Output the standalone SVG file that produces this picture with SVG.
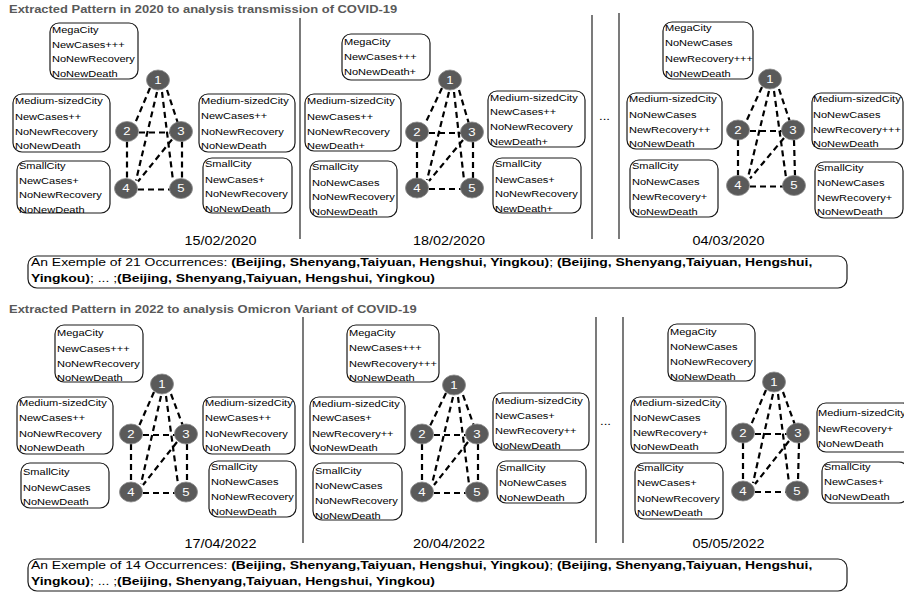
<svg xmlns="http://www.w3.org/2000/svg" width="904" height="593" viewBox="0 0 904 593">
<style>
text{font-family:"Liberation Sans",Arial,sans-serif;fill:#000}
.box{fill:#fff;stroke:#1a1a1a;stroke-width:1.2}
.t{font-size:9.2px}
.edge{stroke:#000;stroke-width:2.2;stroke-dasharray:6 4;fill:none}
.nd{fill:#5a5a5a;stroke:#8a8a8a;stroke-width:0.8}
.num{font-size:11px;fill:#fff;text-anchor:middle}
.sep{stroke:#333;stroke-width:1.3}
.title{font-weight:bold;font-size:10.8px;fill:#595959}
.date{font-size:12px;text-anchor:middle}
.ex{font-size:11.6px}
.b{font-weight:bold}
.dots{font-size:11px}
</style>
<rect width="904" height="593" fill="#fff"/>

<text class="title" transform="matrix(1.2 0 0 1 9 0)" x="0" y="13.5">Extracted Pattern in 2020 to analysis transmission of COVID-19</text>
<text class="title" transform="matrix(1.2 0 0 1 9 0)" x="0" y="313.5">Extracted Pattern in 2022 to analysis Omicron Variant of COVID-19</text>

<g id="separators">
<line class="sep" x1="300" y1="18" x2="300" y2="239"/>
<line class="sep" x1="592" y1="15" x2="592" y2="239"/>
<line class="sep" x1="619" y1="13" x2="619" y2="239"/>
<line class="sep" x1="303" y1="317" x2="303" y2="543"/>
<line class="sep" x1="596" y1="317" x2="596" y2="543"/>
<line class="sep" x1="623" y1="317" x2="623" y2="543"/>
<text class="dots" transform="matrix(1.2 0 0 1 599 0)" x="0" y="120">...</text>
<text class="dots" transform="matrix(1.2 0 0 1 600 0)" x="0" y="425">...</text>
</g>

<g id="connectors">
<!-- T1 -->
<line class="edge" x1="150" y1="88" x2="135" y2="123.5"/>
<line class="edge" x1="167" y1="90" x2="178" y2="123.5"/>
<line class="edge" x1="157" y1="92" x2="136" y2="180.5"/>
<line class="edge" x1="162" y1="92" x2="173" y2="180.5"/>
<line class="edge" x1="139" y1="132.5" x2="170" y2="132.5"/>
<line class="edge" x1="127" y1="141.5" x2="127" y2="178.5"/>
<line class="edge" x1="182" y1="141.5" x2="182" y2="178.5"/>
<line class="edge" x1="172" y1="139.5" x2="138" y2="181.5"/>
<line class="edge" x1="138" y1="189.5" x2="170" y2="189.5"/>
<!-- T2 -->
<line class="edge" x1="442" y1="88" x2="425" y2="124"/>
<line class="edge" x1="459" y1="90" x2="469" y2="124"/>
<line class="edge" x1="449" y1="92" x2="427" y2="180"/>
<line class="edge" x1="454" y1="92" x2="464" y2="180"/>
<line class="edge" x1="429" y1="133" x2="461" y2="133"/>
<line class="edge" x1="417" y1="142" x2="417" y2="178"/>
<line class="edge" x1="473" y1="142" x2="473" y2="178"/>
<line class="edge" x1="463" y1="140" x2="429" y2="181"/>
<line class="edge" x1="429" y1="189" x2="461" y2="189"/>
<!-- T3 -->
<line class="edge" x1="762" y1="87" x2="746" y2="122"/>
<line class="edge" x1="779" y1="89" x2="790" y2="122"/>
<line class="edge" x1="769" y1="91" x2="748" y2="177.5"/>
<line class="edge" x1="774" y1="91" x2="786" y2="177.5"/>
<line class="edge" x1="750" y1="131" x2="782" y2="131"/>
<line class="edge" x1="738" y1="140" x2="738" y2="175.5"/>
<line class="edge" x1="794" y1="140" x2="795" y2="175.5"/>
<line class="edge" x1="784" y1="138" x2="750" y2="178.5"/>
<line class="edge" x1="750" y1="186.5" x2="783" y2="186.5"/>
<!-- B1 -->
<line class="edge" x1="154" y1="392" x2="139" y2="426"/>
<line class="edge" x1="171" y1="394" x2="183" y2="426"/>
<line class="edge" x1="161" y1="396" x2="141" y2="484"/>
<line class="edge" x1="166" y1="396" x2="178" y2="484"/>
<line class="edge" x1="143" y1="435" x2="175" y2="435"/>
<line class="edge" x1="131" y1="444" x2="131" y2="482"/>
<line class="edge" x1="187" y1="444" x2="187" y2="482"/>
<line class="edge" x1="177" y1="442" x2="143" y2="485"/>
<line class="edge" x1="143" y1="493" x2="175" y2="493"/>
<!-- B2 -->
<line class="edge" x1="446" y1="393" x2="430" y2="426"/>
<line class="edge" x1="463" y1="395" x2="474" y2="426"/>
<line class="edge" x1="453" y1="397" x2="432" y2="484"/>
<line class="edge" x1="458" y1="397" x2="469" y2="484"/>
<line class="edge" x1="434" y1="435" x2="466" y2="435"/>
<line class="edge" x1="422" y1="444" x2="422" y2="482"/>
<line class="edge" x1="478" y1="444" x2="478" y2="482"/>
<line class="edge" x1="468" y1="442" x2="434" y2="485"/>
<line class="edge" x1="434" y1="493" x2="466" y2="493"/>
<!-- B3 -->
<line class="edge" x1="766" y1="390" x2="751" y2="425"/>
<line class="edge" x1="783" y1="392" x2="795" y2="425"/>
<line class="edge" x1="773" y1="394" x2="753" y2="483"/>
<line class="edge" x1="778" y1="394" x2="789" y2="483"/>
<line class="edge" x1="755" y1="434" x2="787" y2="434"/>
<line class="edge" x1="743" y1="443" x2="743" y2="481"/>
<line class="edge" x1="799" y1="443" x2="798" y2="481"/>
<line class="edge" x1="789" y1="441" x2="755" y2="484"/>
<line class="edge" x1="755" y1="492" x2="786" y2="492"/>
</g>

<!-- ===== TOP ROW NODES ===== -->
<g id="t1-n1"><ellipse class="nd" cx="158" cy="80" rx="11.5" ry="10"/><text class="num" transform="matrix(1.2 0 0 1 158 0)" x="0" y="84">1</text></g>
<g id="t1-n2"><ellipse class="nd" cx="127" cy="131.5" rx="11.5" ry="10"/><text class="num" transform="matrix(1.2 0 0 1 127 0)" x="0" y="135.5">2</text></g>
<g id="t1-n3"><ellipse class="nd" cx="181" cy="131.5" rx="11.5" ry="10"/><text class="num" transform="matrix(1.2 0 0 1 181 0)" x="0" y="135.5">3</text></g>
<g id="t1-n4"><ellipse class="nd" cx="126" cy="188.5" rx="11.5" ry="10"/><text class="num" transform="matrix(1.2 0 0 1 126 0)" x="0" y="192.5">4</text></g>
<g id="t1-n5"><ellipse class="nd" cx="181" cy="188.5" rx="11.5" ry="10"/><text class="num" transform="matrix(1.2 0 0 1 181 0)" x="0" y="192.5">5</text></g>

<g id="t2-n1"><ellipse class="nd" cx="450" cy="80" rx="11.5" ry="10"/><text class="num" transform="matrix(1.2 0 0 1 450 0)" x="0" y="84">1</text></g>
<g id="t2-n2"><ellipse class="nd" cx="417" cy="132" rx="11.5" ry="10"/><text class="num" transform="matrix(1.2 0 0 1 417 0)" x="0" y="136">2</text></g>
<g id="t2-n3"><ellipse class="nd" cx="472" cy="132" rx="11.5" ry="10"/><text class="num" transform="matrix(1.2 0 0 1 472 0)" x="0" y="136">3</text></g>
<g id="t2-n4"><ellipse class="nd" cx="417" cy="188" rx="11.5" ry="10"/><text class="num" transform="matrix(1.2 0 0 1 417 0)" x="0" y="192">4</text></g>
<g id="t2-n5"><ellipse class="nd" cx="472" cy="188" rx="11.5" ry="10"/><text class="num" transform="matrix(1.2 0 0 1 472 0)" x="0" y="192">5</text></g>

<g id="t3-n1"><ellipse class="nd" cx="770" cy="79" rx="11.5" ry="10"/><text class="num" transform="matrix(1.2 0 0 1 770 0)" x="0" y="83">1</text></g>
<g id="t3-n2"><ellipse class="nd" cx="738" cy="130" rx="11.5" ry="10"/><text class="num" transform="matrix(1.2 0 0 1 738 0)" x="0" y="134">2</text></g>
<g id="t3-n3"><ellipse class="nd" cx="793" cy="130" rx="11.5" ry="10"/><text class="num" transform="matrix(1.2 0 0 1 793 0)" x="0" y="134">3</text></g>
<g id="t3-n4"><ellipse class="nd" cx="738" cy="185.5" rx="11.5" ry="10"/><text class="num" transform="matrix(1.2 0 0 1 738 0)" x="0" y="189.5">4</text></g>
<g id="t3-n5"><ellipse class="nd" cx="794" cy="185.5" rx="11.5" ry="10"/><text class="num" transform="matrix(1.2 0 0 1 794 0)" x="0" y="189.5">5</text></g>

<!-- ===== BOTTOM ROW NODES ===== -->
<g id="b1-n1"><ellipse class="nd" cx="162" cy="384" rx="11.5" ry="10"/><text class="num" transform="matrix(1.2 0 0 1 162 0)" x="0" y="388">1</text></g>
<g id="b1-n2"><ellipse class="nd" cx="131" cy="434" rx="11.5" ry="10"/><text class="num" transform="matrix(1.2 0 0 1 131 0)" x="0" y="438">2</text></g>
<g id="b1-n3"><ellipse class="nd" cx="186" cy="434" rx="11.5" ry="10"/><text class="num" transform="matrix(1.2 0 0 1 186 0)" x="0" y="438">3</text></g>
<g id="b1-n4"><ellipse class="nd" cx="131" cy="492" rx="11.5" ry="10"/><text class="num" transform="matrix(1.2 0 0 1 131 0)" x="0" y="496">4</text></g>
<g id="b1-n5"><ellipse class="nd" cx="186" cy="492" rx="11.5" ry="10"/><text class="num" transform="matrix(1.2 0 0 1 186 0)" x="0" y="496">5</text></g>

<g id="b2-n1"><ellipse class="nd" cx="454" cy="385" rx="11.5" ry="10"/><text class="num" transform="matrix(1.2 0 0 1 454 0)" x="0" y="389">1</text></g>
<g id="b2-n2"><ellipse class="nd" cx="422" cy="434" rx="11.5" ry="10"/><text class="num" transform="matrix(1.2 0 0 1 422 0)" x="0" y="438">2</text></g>
<g id="b2-n3"><ellipse class="nd" cx="477" cy="434" rx="11.5" ry="10"/><text class="num" transform="matrix(1.2 0 0 1 477 0)" x="0" y="438">3</text></g>
<g id="b2-n4"><ellipse class="nd" cx="422" cy="492" rx="11.5" ry="10"/><text class="num" transform="matrix(1.2 0 0 1 422 0)" x="0" y="496">4</text></g>
<g id="b2-n5"><ellipse class="nd" cx="477" cy="492" rx="11.5" ry="10"/><text class="num" transform="matrix(1.2 0 0 1 477 0)" x="0" y="496">5</text></g>

<g id="b3-n1"><ellipse class="nd" cx="774" cy="382" rx="11.5" ry="10"/><text class="num" transform="matrix(1.2 0 0 1 774 0)" x="0" y="386">1</text></g>
<g id="b3-n2"><ellipse class="nd" cx="743" cy="433" rx="11.5" ry="10"/><text class="num" transform="matrix(1.2 0 0 1 743 0)" x="0" y="437">2</text></g>
<g id="b3-n3"><ellipse class="nd" cx="798" cy="433" rx="11.5" ry="10"/><text class="num" transform="matrix(1.2 0 0 1 798 0)" x="0" y="437">3</text></g>
<g id="b3-n4"><ellipse class="nd" cx="743" cy="491" rx="11.5" ry="10"/><text class="num" transform="matrix(1.2 0 0 1 743 0)" x="0" y="495">4</text></g>
<g id="b3-n5"><ellipse class="nd" cx="797" cy="491" rx="11.5" ry="10"/><text class="num" transform="matrix(1.2 0 0 1 797 0)" x="0" y="495">5</text></g>

<!-- ===== TOP ROW LABEL BOXES ===== -->
<g id="t1-mega"><rect class="box" x="50" y="23" width="88" height="56" rx="9"/><text class="t" transform="matrix(1.2 0 0 1 52 0)"><tspan x="0" y="33.5">MegaCity</tspan><tspan x="0" y="48">NewCases+++</tspan><tspan x="0" y="62.5">NoNewRecovery</tspan><tspan x="0" y="77">NoNewDeath</tspan></text></g>
<g id="t1-medl"><rect class="box" x="13" y="94" width="97" height="58" rx="9"/><text class="t" transform="matrix(1.2 0 0 1 15 0)"><tspan x="0" y="104">Medium-sizedCity</tspan><tspan x="0" y="120">NewCases++</tspan><tspan x="0" y="135">NoNewRecovery</tspan><tspan x="0" y="149">NoNewDeath</tspan></text></g>
<g id="t1-medr"><rect class="box" x="199" y="94" width="96" height="58" rx="9"/><text class="t" transform="matrix(1.2 0 0 1 201 0)"><tspan x="0" y="104">Medium-sizedCity</tspan><tspan x="0" y="119.5">NewCases++</tspan><tspan x="0" y="135">NoNewRecovery</tspan><tspan x="0" y="149">NoNewDeath</tspan></text></g>
<g id="t1-smalll"><rect class="box" x="17" y="161" width="93" height="52" rx="9"/><text class="t" transform="matrix(1.2 0 0 1 19 0)"><tspan x="0" y="169">SmallCity</tspan><tspan x="0" y="184.5">NewCases+</tspan><tspan x="0" y="198.5">NoNewRecovery</tspan><tspan x="0" y="213">NoNewDeath</tspan></text></g>
<g id="t1-smallr"><rect class="box" x="203" y="158" width="89" height="55" rx="9"/><text class="t" transform="matrix(1.2 0 0 1 205 0)"><tspan x="0" y="167.5">SmallCity</tspan><tspan x="0" y="183">NewCases+</tspan><tspan x="0" y="197.5">NoNewRecovery</tspan><tspan x="0" y="212.5">NoNewDeath</tspan></text></g>

<g id="t2-mega"><rect class="box" x="342" y="34" width="88" height="46" rx="9"/><text class="t" transform="matrix(1.2 0 0 1 344 0)"><tspan x="0" y="45">MegaCity</tspan><tspan x="0" y="60">NewCases+++</tspan><tspan x="0" y="75">NoNewDeath+</tspan></text></g>
<g id="t2-medl"><rect class="box" x="305" y="94" width="96" height="57" rx="9"/><text class="t" transform="matrix(1.2 0 0 1 307 0)"><tspan x="0" y="104">Medium-sizedCity</tspan><tspan x="0" y="120">NewCases++</tspan><tspan x="0" y="135">NoNewRecovery</tspan><tspan x="0" y="149">NewDeath+</tspan></text></g>
<g id="t2-medr"><rect class="box" x="488" y="91" width="97" height="56" rx="9"/><text class="t" transform="matrix(1.2 0 0 1 490 0)"><tspan x="0" y="101">Medium-sizedCity</tspan><tspan x="0" y="115.5">NewCases++</tspan><tspan x="0" y="130.5">NoNewRecovery</tspan><tspan x="0" y="145.5">NewDeath+</tspan></text></g>
<g id="t2-smalll"><rect class="box" x="310" y="161" width="87" height="56" rx="9"/><text class="t" transform="matrix(1.2 0 0 1 312 0)"><tspan x="0" y="170">SmallCity</tspan><tspan x="0" y="186">NoNewCases</tspan><tspan x="0" y="200.5">NoNewRecovery</tspan><tspan x="0" y="215.5">NoNewDeath</tspan></text></g>
<g id="t2-smallr"><rect class="box" x="493" y="158" width="88" height="55" rx="9"/><text class="t" transform="matrix(1.2 0 0 1 495 0)"><tspan x="0" y="167.5">SmallCity</tspan><tspan x="0" y="183">NewCases+</tspan><tspan x="0" y="197.5">NoNewRecovery</tspan><tspan x="0" y="212.5">NewDeath+</tspan></text></g>

<g id="t3-mega"><rect class="box" x="663" y="22" width="90" height="57" rx="9"/><text class="t" transform="matrix(1.2 0 0 1 665 0)"><tspan x="0" y="31.5">MegaCity</tspan><tspan x="0" y="46.5">NoNewCases</tspan><tspan x="0" y="62">NewRecovery+++</tspan><tspan x="0" y="77.5">NoNewDeath</tspan></text></g>
<g id="t3-medl"><rect class="box" x="627" y="93" width="95" height="56" rx="9"/><text class="t" transform="matrix(1.2 0 0 1 629 0)"><tspan x="0" y="102.5">Medium-sizedCity</tspan><tspan x="0" y="118.5">NoNewCases</tspan><tspan x="0" y="133.5">NewRecovery++</tspan><tspan x="0" y="147.5">NoNewDeath</tspan></text></g>
<g id="t3-medr"><rect class="box" x="812" y="93" width="91" height="56" rx="9"/><text class="t" transform="matrix(1.2 0 0 1 813 0)"><tspan x="0" y="102.5">Medium-sizedCity</tspan><tspan x="0" y="118.5">NoNewCases</tspan><tspan x="0" y="133.5">NewRecovery+++</tspan><tspan x="0" y="147.5">NoNewDeath</tspan></text></g>
<g id="t3-smalll"><rect class="box" x="630" y="160" width="88" height="57" rx="9"/><text class="t" transform="matrix(1.2 0 0 1 632 0)"><tspan x="0" y="169">SmallCity</tspan><tspan x="0" y="185">NoNewCases</tspan><tspan x="0" y="200">NewRecovery+</tspan><tspan x="0" y="215">NoNewDeath</tspan></text></g>
<g id="t3-smallr"><rect class="box" x="815" y="162" width="88" height="56" rx="9"/><text class="t" transform="matrix(1.2 0 0 1 817 0)"><tspan x="0" y="171">SmallCity</tspan><tspan x="0" y="186.5">NoNewCases</tspan><tspan x="0" y="201">NewRecovery+</tspan><tspan x="0" y="215.5">NoNewDeath</tspan></text></g>

<!-- ===== BOTTOM ROW LABEL BOXES ===== -->
<g id="b1-mega"><rect class="box" x="55" y="325" width="88" height="57" rx="9"/><text class="t" transform="matrix(1.2 0 0 1 57 0)"><tspan x="0" y="336.5">MegaCity</tspan><tspan x="0" y="352">NewCases+++</tspan><tspan x="0" y="367.5">NoNewRecovery</tspan><tspan x="0" y="381.5">NoNewDeath</tspan></text></g>
<g id="b1-medl"><rect class="box" x="17" y="397" width="96" height="57" rx="9"/><text class="t" transform="matrix(1.2 0 0 1 19 0)"><tspan x="0" y="406.5">Medium-sizedCity</tspan><tspan x="0" y="421.5">NewCases++</tspan><tspan x="0" y="437.5">NoNewRecovery</tspan><tspan x="0" y="451.5">NoNewDeath</tspan></text></g>
<g id="b1-medr"><rect class="box" x="203" y="397" width="92" height="57" rx="9"/><text class="t" transform="matrix(1.2 0 0 1 205 0)"><tspan x="0" y="406.5">Medium-sizedCity</tspan><tspan x="0" y="421.5">NewCases++</tspan><tspan x="0" y="437.5">NoNewRecovery</tspan><tspan x="0" y="451.5">NoNewDeath</tspan></text></g>
<g id="b1-smalll"><rect class="box" x="21" y="463" width="88" height="45" rx="9"/><text class="t" transform="matrix(1.2 0 0 1 23 0)"><tspan x="0" y="475">SmallCity</tspan><tspan x="0" y="491">NoNewCases</tspan><tspan x="0" y="505.5">NoNewDeath</tspan></text></g>
<g id="b1-smallr"><rect class="box" x="209" y="461" width="87" height="56" rx="9"/><text class="t" transform="matrix(1.2 0 0 1 211 0)"><tspan x="0" y="470">SmallCity</tspan><tspan x="0" y="485">NoNewCases</tspan><tspan x="0" y="500.5">NoNewRecovery</tspan><tspan x="0" y="515">NoNewDeath</tspan></text></g>

<g id="b2-mega"><rect class="box" x="347" y="325" width="92" height="57" rx="9"/><text class="t" transform="matrix(1.2 0 0 1 349 0)"><tspan x="0" y="336.5">MegaCity</tspan><tspan x="0" y="351.5">NewCases+++</tspan><tspan x="0" y="366.5">NewRecovery+++</tspan><tspan x="0" y="381">NoNewDeath</tspan></text></g>
<g id="b2-medl"><rect class="box" x="310" y="397" width="95" height="57" rx="9"/><text class="t" transform="matrix(1.2 0 0 1 312 0)"><tspan x="0" y="407">Medium-sizedCity</tspan><tspan x="0" y="421.5">NewCases+</tspan><tspan x="0" y="437">NewRecovery++</tspan><tspan x="0" y="451.5">NoNewDeath</tspan></text></g>
<g id="b2-medr"><rect class="box" x="493" y="393" width="96" height="57" rx="9"/><text class="t" transform="matrix(1.2 0 0 1 495 0)"><tspan x="0" y="404">Medium-sizedCity</tspan><tspan x="0" y="419">NewCases+</tspan><tspan x="0" y="434">NewRecovery++</tspan><tspan x="0" y="449">NoNewDeath</tspan></text></g>
<g id="b2-smalll"><rect class="box" x="313" y="463" width="89" height="57" rx="9"/><text class="t" transform="matrix(1.2 0 0 1 315 0)"><tspan x="0" y="474">SmallCity</tspan><tspan x="0" y="489">NoNewCases</tspan><tspan x="0" y="504">NoNewRecovery</tspan><tspan x="0" y="519">NoNewDeath</tspan></text></g>
<g id="b2-smallr"><rect class="box" x="497" y="461" width="89" height="42" rx="9"/><text class="t" transform="matrix(1.2 0 0 1 499 0)"><tspan x="0" y="471">SmallCity</tspan><tspan x="0" y="486">NoNewCases</tspan><tspan x="0" y="501">NoNewDeath</tspan></text></g>

<g id="b3-mega"><rect class="box" x="668" y="324" width="87" height="57" rx="9"/><text class="t" transform="matrix(1.2 0 0 1 670 0)"><tspan x="0" y="335">MegaCity</tspan><tspan x="0" y="350">NoNewCases</tspan><tspan x="0" y="365.5">NoNewRecovery</tspan><tspan x="0" y="380">NoNewDeath</tspan></text></g>
<g id="b3-medl"><rect class="box" x="631" y="397" width="95" height="56" rx="9"/><text class="t" transform="matrix(1.2 0 0 1 633 0)"><tspan x="0" y="406.5">Medium-sizedCity</tspan><tspan x="0" y="421.5">NoNewCases</tspan><tspan x="0" y="436">NewRecovery+</tspan><tspan x="0" y="450.5">NoNewDeath</tspan></text></g>
<g id="b3-medr"><rect class="box" x="817" y="403" width="95" height="49" rx="9"/><text class="t" transform="matrix(1.2 0 0 1 818 0)"><tspan x="0" y="416.5">Medium-sizedCity</tspan><tspan x="0" y="432">NewRecovery+</tspan><tspan x="0" y="447">NoNewDeath</tspan></text></g>
<g id="b3-smalll"><rect class="box" x="635" y="463" width="88" height="56" rx="9"/><text class="t" transform="matrix(1.2 0 0 1 637 0)"><tspan x="0" y="471.5">SmallCity</tspan><tspan x="0" y="486.5">NewCases+</tspan><tspan x="0" y="502.5">NoNewRecovery</tspan><tspan x="0" y="516.5">NoNewDeath</tspan></text></g>
<g id="b3-smallr"><rect class="box" x="822" y="462" width="86" height="41" rx="9"/><text class="t" transform="matrix(1.2 0 0 1 824 0)"><tspan x="0" y="470">SmallCity</tspan><tspan x="0" y="485.5">NewCases+</tspan><tspan x="0" y="500">NoNewDeath</tspan></text></g>

<!-- ===== DATES ===== -->
<g id="dates">
<text class="date" transform="matrix(1.2 0 0 1 220.5 0)" x="0" y="245">15/02/2020</text>
<text class="date" transform="matrix(1.2 0 0 1 449 0)" x="0" y="245">18/02/2020</text>
<text class="date" transform="matrix(1.2 0 0 1 728.5 0)" x="0" y="245">04/03/2020</text>
<text class="date" transform="matrix(1.2 0 0 1 220.5 0)" x="0" y="548">17/04/2022</text>
<text class="date" transform="matrix(1.2 0 0 1 449 0)" x="0" y="548">20/04/2022</text>
<text class="date" transform="matrix(1.2 0 0 1 728.5 0)" x="0" y="548">05/05/2022</text>
</g>

<!-- ===== OCCURRENCE BOXES ===== -->
<g id="occ-2020"><rect class="box" x="28" y="256" width="819" height="32" rx="9"/><text class="ex" transform="matrix(1.2 0 0 1 31 0)"><tspan x="0" y="266">An Exemple of 21 Occurrences: </tspan><tspan class="b">(Beijing, Shenyang,Taiyuan, Hengshui, Yingkou)</tspan><tspan>; </tspan><tspan class="b">(Beijing, Shenyang,Taiyuan, Hengshui,</tspan><tspan class="b" x="0" y="282">Yingkou)</tspan><tspan>; ... ;</tspan><tspan class="b">(Beijing, Shenyang,Taiyuan, Hengshui, Yingkou)</tspan></text></g>
<g id="occ-2022"><rect class="box" x="28" y="559" width="819" height="32" rx="9"/><text class="ex" transform="matrix(1.2 0 0 1 31 0)"><tspan x="0" y="569">An Exemple of 14 Occurrences: </tspan><tspan class="b">(Beijing, Shenyang,Taiyuan, Hengshui, Yingkou)</tspan><tspan>; </tspan><tspan class="b">(Beijing, Shenyang,Taiyuan, Hengshui,</tspan><tspan class="b" x="0" y="585">Yingkou)</tspan><tspan>; ... ;</tspan><tspan class="b">(Beijing, Shenyang,Taiyuan, Hengshui, Yingkou)</tspan></text></g>
</svg>
